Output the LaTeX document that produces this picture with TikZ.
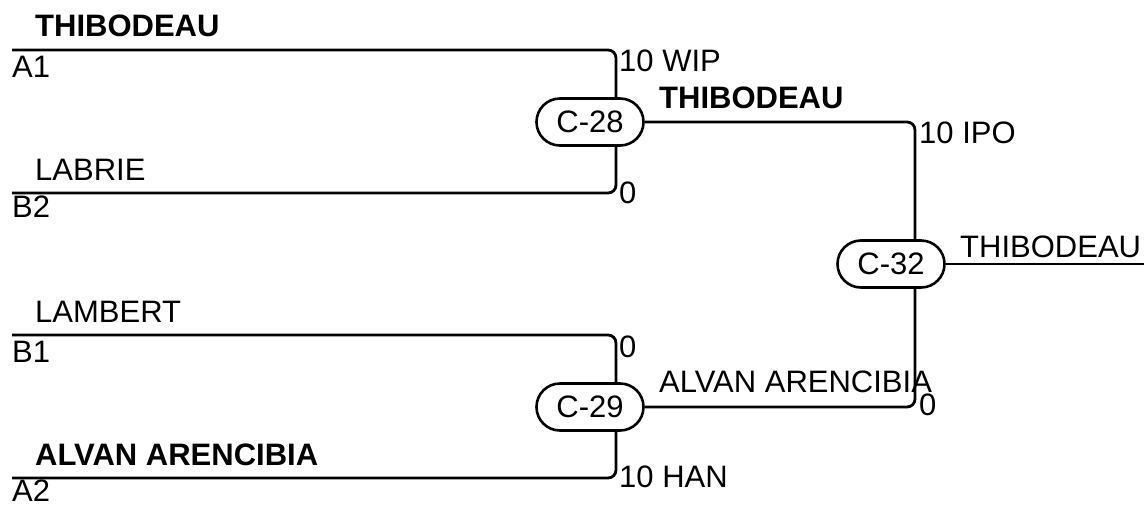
\documentclass[tikz,border=0pt]{standalone}
\usepackage{fontspec}
\setmainfont{Liberation Sans}
\usetikzlibrary{shapes.misc}
\tikzset{
  game/.style={rounded rectangle, draw, line width=2.6pt, minimum width=107pt, minimum height=47pt, inner sep=0pt, font=\fontsize{31}{37}\selectfont},
  lbl/.style={anchor=base west, inner sep=0pt, font=\fontsize{31}{37}\selectfont},
  win/.style={lbl, font=\fontsize{31}{37}\selectfont\bfseries},
  wire/.style={line width=2.8pt, rounded corners=8pt}
}
\begin{document}
\begin{tikzpicture}[x=1pt, y=-1pt]
\useasboundingbox (0,0) rectangle (1144,504);

% games:
\node[game] (c28) at (590,122) {C-28};
\node[game] (c29) at (590,407) {C-29};
\node[game] (c32) at (891,264) {C-32};

% entries:
\coordinate (a1) at (12,50);
\coordinate (b2) at (12,193);
\coordinate (b1) at (12,335);
\coordinate (a2) at (12,478);
\coordinate (champ) at (1144,264);

% C-28:
\draw[wire] (a1) -| ([xshift=26pt]c28.north);
\draw[wire] (b2) -| ([xshift=26pt]c28.south);
\node[win] (na1) at (35,36) {THIBODEAU};
\node[lbl] (ta1) at (12,77) {A1};
\node[lbl] (nb2) at (35,180) {LABRIE};
\node[lbl] (tb2) at (12,217) {B2};
\node[lbl] (s28a) at (619,71) {10 WIP};
\node[lbl] (s28b) at (619,203) {0};

% C-29:
\draw[wire] (b1) -| ([xshift=26pt]c29.north);
\draw[wire] (a2) -| ([xshift=26pt]c29.south);
\node[lbl] (nb1) at (35,322) {LAMBERT};
\node[lbl] (tb1) at (12,362) {B1};
\node[win] (na2) at (35,465) {ALVAN ARENCIBIA};
\node[lbl] (ta2) at (12,501) {A2};
\node[lbl] (s29a) at (619,357) {0};
\node[lbl] (s29b) at (619,487) {10 HAN};

% C-32:
\draw[wire] (c28.east) -| ([xshift=24pt]c32.north);
\draw[wire] (c29.east) -| ([xshift=24pt]c32.south);
\draw[line width=2.8pt] (c32.east) -- (champ);
\node[win] (w28) at (659,108) {THIBODEAU};
\node[lbl] (w29) at (659,392) {ALVAN ARENCIBIA};
\node[lbl] (s32a) at (919,143) {10 IPO};
\node[lbl] (s32b) at (919,415) {0};
\node[lbl] (w32) at (960,257) {THIBODEAU};
\end{tikzpicture}
\end{document}
